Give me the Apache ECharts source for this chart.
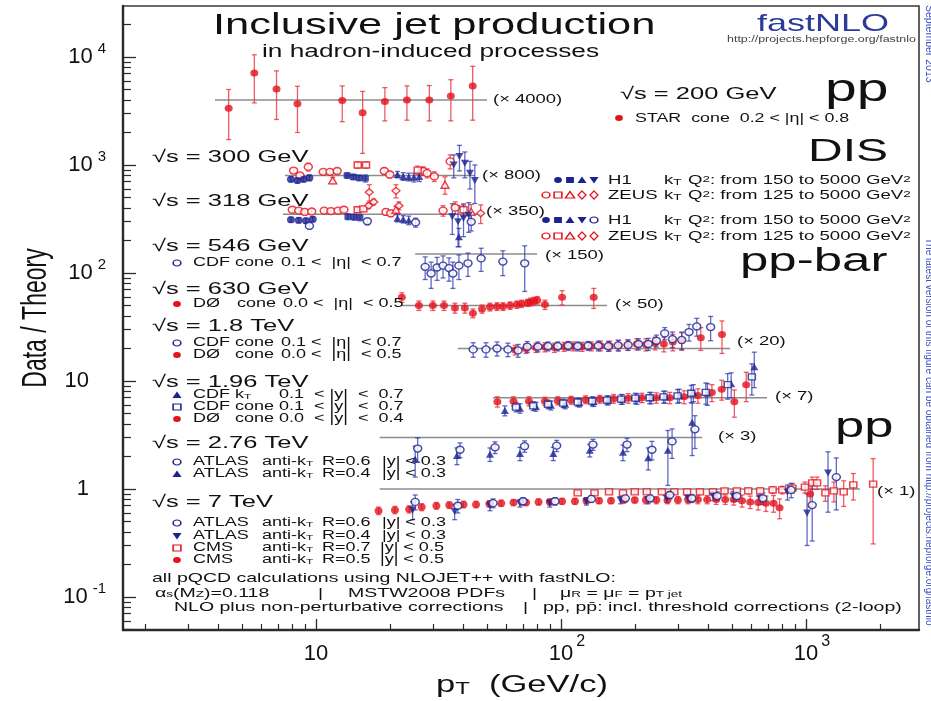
<!DOCTYPE html>
<html>
<head>
<meta charset="utf-8">
<title>Inclusive jet production</title>
<script src="https://cdn.jsdelivr.net/npm/echarts@6/dist/echarts.min.js"></script>
<style>
  html, body { margin: 0; padding: 0; background: #fff; }
  #chart { width: 931px; height: 701px; }
</style>
</head>
<body>
<div id="chart"></div>
<script>
// every row: [pT (GeV/c), data/theory, abs. error]

// pp 200 GeV, STAR
const star200 = [[4.4,0.84,0.41],[5.6,1.78,0.84],[6.9,1.26,0.6],[8.4,0.92,0.42],[12.8,0.99,0.36],[15.5,0.76,0.44],
  [19.1,0.97,0.33],[23.5,1.0,0.35],[29.0,1.0,0.36],[35.5,1.09,0.45],[43.6,1.35,0.7]];

// DIS 300 GeV
const h1_300_a = [[7.9,0.92,0.05],[8.4,0.90,0.05],[8.9,0.92,0.05],[9.4,0.95,0.06]];
const h1_300_b = [[13.4,1.0,0.06],[14.2,0.97,0.06],[15.0,0.95,0.06],[15.9,0.94,0.07]];
const h1_300_c = [[21.5,1.02,0.07],[22.7,0.98,0.08],[23.9,0.97,0.08],[25.1,0.96,0.09],[26.4,0.98,0.1]];
const h1_300_d = [[36.5,1.25,0.3],[38.5,1.5,0.4],[40.5,1.3,0.35],[42.5,1.05,0.3],[44.5,0.9,0.35]];
const zeus_300_o = [[8.1,1.11,0.05],[8.6,1.0,0.05],[9.3,1.2,0.1],[10.7,1.08,0.05],[11.4,1.08,0.05],[12.2,1.1,0.06],
  [19.0,1.1,0.07],[20.0,1.02,0.07],[27.4,1.1,0.1],[28.4,1.05,0.1],[30.4,0.98,0.1],[35.3,1.35,0.2]];
const zeus_300_s = [[14.8,1.25,0.08],[16.0,1.25,0.08],[26.0,1.12,0.1]];
const zeus_300_t = [[11.7,0.9,0.06],[33.6,0.82,0.15]];
const zeus_300_d = [[16.5,0.7,0.12],[21.2,0.72,0.1]];

// DIS 318 GeV
const h1_318_a = [[7.9,0.89,0.05],[8.5,0.88,0.05],[9.1,0.87,0.05],[9.7,0.9,0.05]];
const h1_318_b = [[13.5,0.95,0.06],[14.3,0.94,0.06],[15.1,0.93,0.06]];
const h1_318_c = [[21.5,0.92,0.07],[22.7,0.9,0.07],[23.9,0.88,0.08],[38.3,0.62,0.12]];
const h1_318_d = [[36.0,0.95,0.3],[38.0,0.85,0.35],[40.0,0.92,0.3],[42.0,0.98,0.3]];
const h1_318_o = [[9.4,0.78,0.05],[16.2,0.86,0.06],[25.5,0.84,0.08],[43.0,0.85,0.15]];
const zeus_318_o = [[8.0,1.1,0.05],[8.5,1.08,0.05],[9.0,1.05,0.05],[9.6,1.06,0.05],[10.8,1.08,0.05],[11.5,1.07,0.05],
  [12.3,1.08,0.05],[13.0,1.1,0.06],[19.3,1.05,0.07],[20.2,1.02,0.07],[33.0,1.08,0.12],[37.0,1.15,0.15]];
const zeus_318_s = [[14.8,1.1,0.06],[15.6,1.12,0.06],[40.0,1.1,0.15]];
const zeus_318_t = [[21.2,1.1,0.08],[43.0,1.05,0.18]];
const zeus_318_d = [[16.4,1.2,0.07],[17.2,1.3,0.08],[21.8,1.2,0.1],[47.0,1.02,0.2]];

// ppbar 546 GeV / 630 GeV
const cdf546 = [[27.9,0.76,0.18],[29.5,0.66,0.18],[31.2,0.75,0.18],[33.0,0.78,0.18],[34.9,0.74,0.18],[36.2,0.66,0.18],
  [38.3,0.78,0.2],[41.7,0.82,0.2],[47.2,0.91,0.22],[57.9,0.85,0.22],[71.1,0.82,0.37]];
const d0_630 = [[22.4,1.19,0.12],[26.3,1.0,0.1],[30.0,1.0,0.1],[33.3,1.0,0.1],[36.9,0.95,0.1],[40.5,0.95,0.1],[43.7,0.85,0.08],
  [47.6,0.93,0.08],[51.3,0.97,0.08],[54.8,0.98,0.08],[58.0,0.98,0.08],[62.0,1.0,0.08],[66.0,1.02,0.08],[69.0,1.04,0.08],
  [73.0,1.06,0.08],[75.0,1.08,0.09],[77.6,1.1,0.09],[80.0,1.12,0.09],[86.0,1.02,0.1],[101,1.19,0.18],[136,1.19,0.25]];

// ppbar 1.8 TeV
const cdf1800 = [[43.8,0.98,0.15],[49.4,0.98,0.15],[54.8,1.0,0.15],[60.7,0.98,0.14],[66.8,0.96,0.13],[72.8,1.04,0.12],
  [80.5,1.04,0.11],[88.5,1.05,0.1],[97,1.05,0.1],[107,1.06,0.1],[117,1.05,0.1],[129,1.06,0.1],[142,1.06,0.11],[156,1.05,0.11],
  [171,1.07,0.12],[188,1.08,0.12],[207,1.1,0.13],[227,1.1,0.14],[245,1.18,0.15],[265,1.38,0.18],[285,1.22,0.2],[311,1.2,0.22],
  [333,1.42,0.25],[358,1.6,0.3],[408,1.58,0.4]];
const d0_1800 = [[65,0.97,0.1],[72,1.0,0.1],[79,1.02,0.1],[86,1.03,0.1],[94,1.02,0.1],[103,1.04,0.1],[112,1.05,0.1],[122,1.04,0.1],
  [133,1.05,0.1],[145,1.06,0.11],[158,1.06,0.11],[172,1.07,0.12],[187,1.08,0.12],[204,1.1,0.13],[222,1.09,0.14],[242,1.12,0.15],
  [263,1.1,0.17],[286,1.15,0.2],[311,1.18,0.22],[372,1.26,0.3],[454,1.35,0.45]];

// ppbar 1.96 TeV
const d0_1960 = [[55,0.92,0.1],[64,0.93,0.09],[74,0.93,0.09],[86,0.93,0.08],[97,0.94,0.08],[110,0.95,0.08],[126,0.96,0.08],
  [144,0.97,0.08],[164,0.98,0.09],[188,0.99,0.1],[214,1.0,0.1],[245,1.0,0.11],[278,1.0,0.12],[318,1.02,0.14],[362,1.05,0.16],
  [413,1.12,0.2],[453,1.2,0.25],[510,0.92,0.26],[570,1.32,0.4]];
const cdfkt1960 = [[59,0.76,0.08],[68,0.8,0.08],[79,0.83,0.08],[91,0.85,0.08],[104,0.87,0.08],[119,0.9,0.08],[136,0.92,0.09],
  [156,0.95,0.09],[178,0.97,0.1],[204,0.98,0.11],[233,1.0,0.12],[266,1.02,0.13],[304,1.05,0.15],[347,1.12,0.2],[396,1.1,0.25],
  [495,1.35,0.35],[615,1.94,0.7]];
const cdfcone1960 = [[65.5,0.82,0.08],[77,0.84,0.08],[88.5,0.87,0.08],[102,0.89,0.08],[117,0.91,0.08],[134,0.93,0.09],
  [154,0.95,0.09],[176,0.97,0.1],[201,0.99,0.11],[230,1.0,0.12],[262,1.02,0.13],[299,1.04,0.15],[340,1.1,0.2],[390,1.12,0.25],
  [479,1.32,0.35],[601,1.56,0.5]];

// pp 2.76 TeV
const atlas2760_r6 = [[26,0.79,0.2],[38.7,0.77,0.12],[53.8,0.81,0.1],[71,0.83,0.1],[96,0.84,0.1],[135,0.86,0.1],[186,0.86,0.12],
  [235,0.77,0.15],[284,0.92,0.28],[352,1.19,0.4]];
const atlas2760_r4 = [[25.4,0.63,0.2],[37.6,0.68,0.12],[51.3,0.7,0.1],[68,0.71,0.1],[93,0.71,0.1],[131,0.76,0.1],[179,0.73,0.12],
  [227,0.65,0.15],[273,0.76,0.4],[343,1.38,0.7]];

// pp 7 TeV
const atlas7_r6 = [[25.4,0.76,0.12],[37.9,0.70,0.1],[52.8,0.74,0.07],[70,0.77,0.06],[94.5,0.77,0.06],[133,0.81,0.06],[183,0.82,0.06],
  [231,0.82,0.06],[278,0.88,0.07],[342,0.82,0.07],[434,0.86,0.08],[522,0.86,0.09],[667,0.82,0.1],[870,0.98,0.15],[1060,0.71,0.38],
  [1330,1.29,0.65]];
const atlas7_r4 = [[24.8,0.64,0.12],[36.8,0.62,0.1],[51.3,0.7,0.07],[68,0.74,0.06],[90,0.74,0.06],[127,0.77,0.06],[175,0.79,0.06],
  [227,0.79,0.06],[270,0.82,0.07],[330,0.82,0.07],[418,0.86,0.08],[505,0.86,0.09],[650,0.82,0.1],[840,0.94,0.15],[1010,0.6,0.3],
  [1230,1.41,0.8]];
const cms7_r7 = [[117,0.92,0.04],[137,0.92,0.04],[157,0.94,0.04],[179,0.92,0.04],[200,0.94,0.04],[224,0.94,0.04],[258,0.94,0.04],
  [290,0.94,0.04],[327,0.94,0.04],[369,0.94,0.05],[417,0.94,0.05],[465,0.96,0.05],[522,0.96,0.05],[581,0.96,0.06],[650,0.96,0.06],
  [731,0.98,0.07],[800,0.98,0.08],[880,1.02,0.1],[990,1.04,0.12],[1060,1.14,0.15],[1110,1.14,0.15],[1200,0.92,0.15],
  [1300,0.96,0.2],[1425,0.94,0.25],[1560,1.09,0.3],[1880,1.11,0.8]];
const cms7_r5 = [[18,0.63,0.05],[21,0.64,0.05],[24,0.65,0.05],[27,0.68,0.05],[31,0.70,0.05],[35,0.71,0.05],[40,0.72,0.05],
  [45,0.72,0.05],[51,0.73,0.05],[57,0.74,0.05],[64,0.75,0.05],[72,0.75,0.05],[81,0.76,0.05],[90,0.76,0.05],[101,0.77,0.05],
  [114,0.77,0.05],[127,0.78,0.05],[143,0.78,0.05],[160,0.78,0.05],[180,0.79,0.05],[200,0.79,0.05],[222,0.79,0.06],[245,0.79,0.06],
  [272,0.79,0.06],[300,0.79,0.06],[330,0.80,0.07],[362,0.80,0.07],[395,0.80,0.07],[430,0.80,0.08],[468,0.80,0.08],[507,0.80,0.09],
  [548,0.78,0.1],[592,0.76,0.1],[638,0.75,0.11],[686,0.74,0.12],[737,0.74,0.13],[780,0.67,0.14],[1040,0.9,0.22]];

// scale factor of each group and pT range of its unity line
const scaleFactors = [4000, 800, 350, 150, 50, 20, 7, 3, 1];
const lineRanges = [[3.87, 49.9], [7.47, 44.6], [7.33, 48], [25.4, 79.8], [22.4, 154], [37.9, 490], [52.8, 693], [18.2, 377], [18.2, 1660]];

const xMajor = [10, 100, 1000];
const yMajor = [0.1, 1, 10, 100, 1000, 10000];
const minorMult = [2, 3, 4, 5, 6, 7, 8, 9];

const X_MIN = 1.63, X_MAX = 2892, Y_MIN = 0.0495, Y_MAX = 29650;
const FONT = '"Liberation Sans", Arial, Helvetica, sans-serif';
const SX = 1.5;
const RED = '#e3121b', BLUE = '#1c2290';
const RED_ERR = 'rgba(236,50,60,0.8)', BLUE_ERR = 'rgba(45,55,175,0.75)';

function minorTicks(decades, lo, hi) {
  const out = [];
  decades.forEach(d => minorMult.forEach(m => out.push(+(m * d).toPrecision(3))));
  return out.filter(v => v > lo && v < hi);
}
const xMinor = minorTicks([1, 10, 100, 1000], X_MIN, X_MAX);
const yMinor = minorTicks([0.01, 0.1, 1, 10, 100, 1000, 10000], Y_MIN, Y_MAX);

const series = [];

// unity lines
scaleFactors.forEach((f, i) => {
  series.push({
    type: 'line', data: [[lineRanges[i][0], f], [lineRanges[i][1], f]],
    showSymbol: false, symbol: 'none', silent: true, animation: false, z: 1,
    lineStyle: { color: '#8c8c8c', width: 1.4 }
  });
});

function addSet(data, f, symbol, color, open, size, rotate) {
  const rows = data.map(d => [d[0], d[1] * f, Math.max(d[1] - d[2], 0.03) * f, (d[1] + d[2]) * f]);
  const errColor = color === RED ? RED_ERR : BLUE_ERR;
  series.push({
    type: 'custom', silent: true, animation: false, z: 2,
    data: rows, encode: { x: 0, y: 1 },
    renderItem: (params, api) => {
      const top = api.coord([api.value(0), api.value(3)]);
      const bot = api.coord([api.value(0), api.value(2)]);
      const st = { stroke: errColor, lineWidth: 1.3 };
      return {
        type: 'group', children: [
          { type: 'line', shape: { x1: top[0], y1: top[1], x2: bot[0], y2: bot[1] }, style: st },
          { type: 'line', shape: { x1: top[0] - 2.5, y1: top[1], x2: top[0] + 2.5, y2: top[1] }, style: st },
          { type: 'line', shape: { x1: bot[0] - 2.5, y1: bot[1], x2: bot[0] + 2.5, y2: bot[1] }, style: st }
        ]
      };
    }
  });
  series.push({
    type: 'scatter', silent: true, animation: false, z: 3,
    data: rows.map(r => [r[0], r[1]]),
    symbol: symbol, symbolSize: size, symbolRotate: rotate || 0,
    itemStyle: open ? { color: '#fff', borderColor: color, borderWidth: 1.4 } : { color: color }
  });
}

const DOT = [8, 7], RING = [8, 7], SQ = [7, 6], TRI = [8, 7];

addSet(star200, 4000, 'circle', RED, false, DOT);

addSet(zeus_300_o, 800, 'circle', RED, true, RING);
addSet(zeus_300_s, 800, 'rect', RED, true, SQ);
addSet(zeus_300_t, 800, 'triangle', RED, true, TRI);
addSet(zeus_300_d, 800, 'diamond', RED, true, TRI);
addSet(h1_300_a, 800, 'circle', BLUE, false, DOT);
addSet(h1_300_b, 800, 'rect', BLUE, false, SQ);
addSet(h1_300_c, 800, 'triangle', BLUE, false, TRI);
addSet(h1_300_d, 800, 'triangle', BLUE, false, TRI, 180);

addSet(zeus_318_o, 350, 'circle', RED, true, RING);
addSet(zeus_318_s, 350, 'rect', RED, true, SQ);
addSet(zeus_318_t, 350, 'triangle', RED, true, TRI);
addSet(zeus_318_d, 350, 'diamond', RED, true, TRI);
addSet(h1_318_a, 350, 'circle', BLUE, false, DOT);
addSet(h1_318_b, 350, 'rect', BLUE, false, SQ);
addSet(h1_318_c, 350, 'triangle', BLUE, false, TRI);
addSet(h1_318_d, 350, 'triangle', BLUE, false, TRI, 180);
addSet(h1_318_o, 350, 'circle', BLUE, true, RING);

addSet(cdf546, 150, 'circle', BLUE, true, RING);
addSet(d0_630, 50, 'circle', RED, false, DOT);

addSet(d0_1800, 20, 'circle', RED, false, DOT);
addSet(cdf1800, 20, 'circle', BLUE, true, RING);

addSet(d0_1960, 7, 'circle', RED, false, DOT);
addSet(cdfkt1960, 7, 'triangle', BLUE, false, TRI);
addSet(cdfcone1960, 7, 'rect', BLUE, true, SQ);

addSet(atlas2760_r4, 3, 'triangle', BLUE, false, TRI);
addSet(atlas2760_r6, 3, 'circle', BLUE, true, RING);

addSet(cms7_r5, 1, 'circle', RED, false, DOT);
addSet(cms7_r7, 1, 'rect', RED, true, SQ);
addSet(atlas7_r4, 1, 'triangle', BLUE, false, TRI, 180);
addSet(atlas7_r6, 1, 'circle', BLUE, true, RING);

// ---- text and legend glyphs ----
function richFor(size, color) {
  const small = Math.round(size * 0.7);
  return {
    n: { fontSize: size, lineHeight: Math.round(size * 1.3), fontFamily: FONT, fill: color, color: color },
    sub: { fontSize: small, lineHeight: small, verticalAlign: 'bottom', fontFamily: FONT, fill: color, color: color },
    sup: { fontSize: small, lineHeight: small, verticalAlign: 'top', fontFamily: FONT, fill: color, color: color }
  };
}
function txt(x, y, text, size, opt) {
  opt = opt || {};
  const color = opt.color || '#111';
  const align = opt.align || 'left';
  return {
    type: 'text', x: x, y: y, z: 100, silent: true,
    scaleX: opt.sx || SX, scaleY: opt.sy || 1, rotation: opt.rot || 0,
    style: {
      text: text, fontSize: size, fontFamily: FONT, fill: color,
      align: align, verticalAlign: 'middle', textAlign: align, textVerticalAlign: 'middle',
      rich: richFor(size, color)
    }
  };
}
function mk(kind, x, y, color) {
  const open = kind[0] === 'o';
  const k = open ? kind.slice(1) : kind;
  const style = open ? { fill: '#fff', stroke: color, lineWidth: 1.2 } : { fill: color };
  let el;
  if (k === 'circle') el = { type: 'circle', shape: { cx: 0, cy: 0, r: 3 } };
  else if (k === 'rect') el = { type: 'rect', shape: { x: -3, y: -3, width: 6, height: 6 } };
  else if (k === 'tri') el = { type: 'polygon', shape: { points: [[0, -3.5], [3.5, 3], [-3.5, 3]] } };
  else if (k === 'itri') el = { type: 'polygon', shape: { points: [[0, 3.5], [3.5, -3], [-3.5, -3]] } };
  else el = { type: 'polygon', shape: { points: [[0, -4], [3, 0], [0, 4], [-3, 0]] } };
  el.x = x; el.y = y; el.scaleX = 1.3; el.style = style; el.z = 100; el.silent = true;
  return el;
}

const G = [];
// headings
G.push(txt(213, 26, 'Inclusive jet production', 29));
G.push(txt(262, 52, 'in hadron-induced processes', 17.5));
G.push(txt(757, 24, 'fastNLO', 24, { color: '#2b3a9b' }));
G.push(txt(727, 40, 'http://projects.hepforge.org/fastnlo', 8.3, { color: '#444' }));
G.push(txt(825, 91, 'pp', 38));
G.push(txt(808, 152, 'DIS', 32));
G.push(txt(740, 262, 'pp-bar', 34));
G.push(txt(835, 427, 'pp', 35));

// STAR
G.push(txt(620, 94, '√s = 200 GeV', 17));
G.push(mk('circle', 619, 118, RED));
G.push(txt(635, 119, 'STAR  cone  0.2 < |η| < 0.8', 11.9));

// H1 / ZEUS blocks
const dis = [[181, 'H1', 'Q{sup|2}: from 150 to 5000 GeV{sup|2}', ['circle', 'rect', 'tri', 'itri'], BLUE],
             [196, 'ZEUS', 'Q{sup|2}: from 125 to 5000 GeV{sup|2}', ['ocircle', 'orect', 'otri', 'odia', 'odia'], RED],
             [221, 'H1', 'Q{sup|2}: from 150 to 5000 GeV{sup|2}', ['circle', 'rect', 'tri', 'itri', 'ocircle'], BLUE],
             [237, 'ZEUS', 'Q{sup|2}: from 125 to 5000 GeV{sup|2}', ['ocircle', 'orect', 'otri', 'odia', 'odia'], RED]];
dis.forEach(row => {
  const n = row[3].length;
  row[3].forEach((k, i) => G.push(mk(k, 594 - (n - 1 - i) * 12, row[0] - 1, row[4])));
  G.push(txt(608, row[0], row[1], 12.4));
  G.push(txt(664, row[0], 'k{sub|T}', 12.4));
  G.push(txt(688, row[0], row[2], 12.4));
});

// sqrt(s) headings on the left
[[157, '√s = 300 GeV'], [201, '√s = 318 GeV'], [246, '√s = 546 GeV'], [289, '√s = 630 GeV'],
 [326, '√s = 1.8 TeV'], [382, '√s = 1.96 TeV'], [443, '√s = 2.76 TeV'], [502, '√s = 7 TeV']]
  .forEach(h => G.push(txt(152, h[0], h[1], 17)));

// experiment rows: y, glyph, colour, [column x, text] ...
const rowsLeft = [
  [263, 'ocircle', BLUE, [[193, 'CDF'], [235, 'cone'], [281, '0.1 <  |η|  < 0.7']]],
  [304, 'circle', RED, [[193, 'DØ'], [237, 'cone'], [283, '0.0 <  |η|  < 0.5']]],
  [343, 'ocircle', BLUE, [[193, 'CDF'], [235, 'cone'], [281, '0.1 <  |η|  < 0.7']]],
  [355, 'circle', RED, [[193, 'DØ'], [235, 'cone'], [281, '0.0 <  |η|  < 0.5']]],
  [395, 'tri', BLUE, [[193, 'CDF'], [235, 'k{sub|T}'], [279, '0.1  < |y|  <  0.7']]],
  [407, 'orect', BLUE, [[193, 'CDF'], [235, 'cone'], [279, '0.1  < |y|  <  0.7']]],
  [419, 'circle', RED, [[193, 'DØ'], [235, 'cone'], [279, '0.0  < |y|  <  0.4']]],
  [462, 'ocircle', BLUE, [[193, 'ATLAS'], [262, 'anti-k{sub|T}'], [322, 'R=0.6'], [382, '|y| < 0.3']]],
  [474, 'tri', BLUE, [[193, 'ATLAS'], [262, 'anti-k{sub|T}'], [322, 'R=0.4'], [382, '|y| < 0.3']]],
  [523, 'ocircle', BLUE, [[193, 'ATLAS'], [262, 'anti-k{sub|T}'], [322, 'R=0.6'], [382, '|y| < 0.3']]],
  [536, 'itri', BLUE, [[193, 'ATLAS'], [262, 'anti-k{sub|T}'], [322, 'R=0.4'], [382, '|y| < 0.3']]],
  [548, 'orect', RED, [[193, 'CMS'], [262, 'anti-k{sub|T}'], [322, 'R=0.7'], [380, '|y| < 0.5']]],
  [560, 'circle', RED, [[193, 'CMS'], [262, 'anti-k{sub|T}'], [322, 'R=0.5'], [380, '|y| < 0.5']]]
];
rowsLeft.forEach(r => {
  G.push(mk(r[1], 177, r[0], r[2]));
  r[3].forEach(c => G.push(txt(c[0], r[0], c[1], 12)));
});

// scale labels
[[493, 100, '(× 4000)'], [482, 176, '(× 800)'], [486, 212, '(× 350)'], [545, 256, '(× 150)'], [615, 305, '(× 50)'],
 [737, 342, '(× 20)'], [775, 397, '(× 7)'], [718, 437, '(× 3)'], [877, 492, '(× 1)']]
  .forEach(s => G.push(txt(s[0], s[1], s[2], 12.3)));

// footnote
G.push(txt(152, 578, 'all pQCD calculations using NLOJET++ with fastNLO:', 13));
G.push(txt(155, 593, 'α{sub|s}(M{sub|Z})=0.118', 13));
G.push(txt(318, 593, '|', 13));
G.push(txt(348, 593, 'MSTW2008 PDFs', 13));
G.push(txt(532, 593, '|', 13));
G.push(txt(560, 593, 'μ{sub|R} = μ{sub|F} = p{sub|T jet}', 13));
G.push(txt(174, 607, 'NLO plus non-perturbative corrections', 13));
G.push(txt(523, 607, '|', 13));
G.push(txt(543, 607, 'pp, pp\u0304: incl. threshold corrections (2-loop)', 13));

// axis titles
G.push(txt(36, 318, 'Data / Theory', 23, { rot: Math.PI / 2, sx: 1, sy: SX, align: 'center' }));
G.push(txt(436, 686, 'p{sub|T}  (GeV/c)', 23));

// side stamp
G.push(txt(929, 5, 'September 2013', 10.5, { rot: -Math.PI / 2, sx: 1, color: '#3a4fb8' }));
G.push(txt(929, 238, 'The latest version of this figure can be obtained from http://projects.hepforge.org/fastnlo', 10,
  { rot: -Math.PI / 2, sx: 1, color: '#3a4fb8' }));

function expOf(v) { return Math.round(Math.log10(v)); }
const axisColor = '#2a2a2a';

const option = {
  backgroundColor: '#fff',
  animation: false,
  grid: { left: 123, right: 12, top: 6, bottom: 71, show: true, borderColor: '#3a3a3a', borderWidth: 1.6,
          containLabel: false, outerBoundsMode: 'none' },
  xAxis: [
    {
      type: 'log', logBase: 10, min: X_MIN, max: X_MAX, position: 'bottom',
      axisLine: { show: true, onZero: false, lineStyle: { color: axisColor, width: 2.4 } },
      axisTick: { inside: true, length: 11, customValues: xMajor, lineStyle: { color: axisColor, width: 1.3 } },
      splitLine: { show: false },
      axisLabel: {
        customValues: xMajor, margin: 4,
        formatter: v => expOf(v) === 1 ? '{b|10}' : '{s|}{b|10}{e|' + expOf(v) + '}',
        rich: {
          b: { fontSize: 22, lineHeight: 40, fontFamily: FONT, color: '#111' },
          e: { fontSize: 16, lineHeight: 16, verticalAlign: 'top', padding: [0, 0, 0, 3], fontFamily: FONT, color: '#111' },
          s: { width: 12 }
        }
      }
    },
    {
      type: 'log', logBase: 10, min: X_MIN, max: X_MAX, position: 'bottom',
      axisLine: { show: false }, axisLabel: { show: false }, splitLine: { show: false },
      axisTick: { inside: true, length: 6, customValues: xMinor, lineStyle: { color: axisColor, width: 1.2 } }
    }
  ],
  yAxis: [
    {
      type: 'log', logBase: 10, min: Y_MIN, max: Y_MAX, position: 'left',
      axisLine: { show: true, onZero: false, lineStyle: { color: axisColor, width: 2.4 } },
      axisTick: { inside: true, length: 13, customValues: yMajor, lineStyle: { color: axisColor, width: 1.3 } },
      splitLine: { show: false },
      axisLabel: {
        customValues: yMajor, margin: 17,
        formatter: v => {
          const e = expOf(v);
          if (e === 0) return '{b|1}{s|}';
          if (e === 1) return '{b|10}{s|}';
          return '{b|10}{e|' + e + '}';
        },
        rich: {
          b: { fontSize: 22, lineHeight: 32, fontFamily: FONT, color: '#111' },
          e: { fontSize: 15, lineHeight: 15, verticalAlign: 'top', padding: [0, 0, 0, 5], fontFamily: FONT, color: '#111' },
          s: { width: 17 }
        }
      }
    },
    {
      type: 'log', logBase: 10, min: Y_MIN, max: Y_MAX, position: 'left',
      axisLine: { show: false }, axisLabel: { show: false }, splitLine: { show: false },
      axisTick: { inside: true, length: 8, customValues: yMinor, lineStyle: { color: axisColor, width: 1.2 } }
    }
  ],
  series: series,
  graphic: { elements: G }
};

const chart = echarts.init(document.getElementById('chart'), null, { renderer: 'canvas' });
chart.setOption(option);
</script>
</body>
</html>
